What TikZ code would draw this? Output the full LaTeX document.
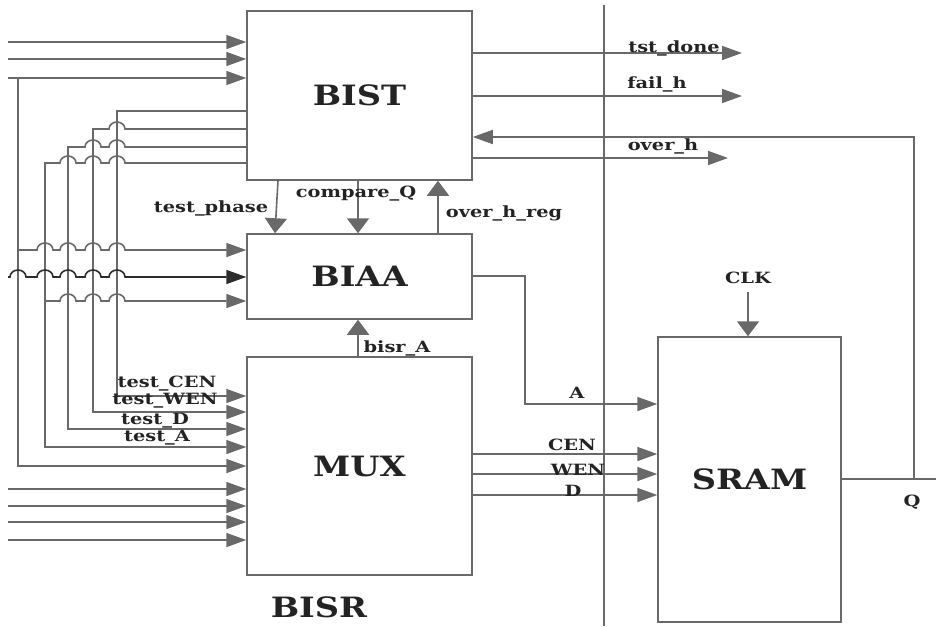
\documentclass[tikz,border=0pt]{standalone}
\usepackage{fontspec}
\setmainfont{DejaVu Serif}
\newfontfamily\lblfont{DejaVu Serif}[FakeStretch=1.25]
\newfontfamily\boxfont{DejaVu Serif}[FakeStretch=1.2]
\usetikzlibrary{arrows.meta}
\definecolor{wirec}{RGB}{105,105,105}
\definecolor{darkwire}{RGB}{45,45,45}
\definecolor{ink}{RGB}{35,35,35}
\tikzset{
  wire/.style={draw=wirec, line width=1.6pt},
  arh/.style={wire, -{Triangle[length=20pt,width=14pt]}},
  arv/.style={wire, -{Triangle[length=15pt,width=22pt]}},
  box/.style={draw=wirec, line width=1.5pt, inner sep=0pt, text=ink,
    font=\boxfont\bfseries\fontsize{28}{28}\selectfont},
  lbl/.style={inner sep=0pt, text=ink, font=\lblfont\bfseries\fontsize{15.5}{15.5}\selectfont},
}
\newcommand{\humpR}{arc[start angle=180,end angle=0,x radius=8,y radius=7]}
\newcommand{\humpL}{arc[start angle=0,end angle=180,x radius=8,y radius=7]}
\begin{document}
\begin{tikzpicture}[x=1pt,y=1pt]
\useasboundingbox (0,0) rectangle (936,-626);
% boxes
\node[box, minimum width=225pt, minimum height=169pt] (BIST) at (359.5,-95.5) {BIST};
\node[box, minimum width=225pt, minimum height=85pt] (BIAA) at (359.5,-276.5) {BIAA};
\node[box, minimum width=225pt, minimum height=218pt] (MUX) at (359.5,-466) {MUX};
\node[box, minimum width=183pt, minimum height=285pt] (SRAM) at (749.5,-479.5) {SRAM};
\node[box, draw=none] (BISR) at (319,-607) {BISR};
% divider
\coordinate (divtop) at (604,-5);
\coordinate (divbot) at (604,-626);
\draw[wire] (divtop) -- (divbot);
% BIST inputs
\coordinate (in1) at (8,-42);
\coordinate (in2) at (8,-59);
\coordinate (in3) at (8,-78);
\draw[arh] (in1) -- (BIST.west |- in1);
\draw[arh] (in2) -- (BIST.west |- in2);
\draw[arh] (in3) -- (BIST.west |- in3);
\coordinate (j1) at (18,-78);
\draw[arh] (j1) -- (18,-466) -- (MUX.west |- 0,-466);
% MUX inputs
\coordinate (m1) at (8,-489);
\coordinate (m2) at (8,-506);
\coordinate (m3) at (8,-522);
\coordinate (m4) at (8,-540);
\draw[arh] (m1) -- (MUX.west |- m1);
\draw[arh] (m2) -- (MUX.west |- m2);
\draw[arh] (m3) -- (MUX.west |- m3);
\draw[arh] (m4) -- (MUX.west |- m4);
% BIST left outputs to MUX
\draw[arh] (BIST.west |- 0,-111) -- (117,-111) -- (117,-396) -- (MUX.west |- 0,-396);
\draw[arh] (BIST.west |- 0,-129) -- (125,-129) \humpL -- (93,-129) -- (93,-412) -- (MUX.west |- 0,-412);
\draw[arh] (BIST.west |- 0,-147) -- (125,-147) \humpL -- (101,-147) \humpL -- (68,-147) -- (68,-429) -- (MUX.west |- 0,-429);
\draw[arh] (BIST.west |- 0,-163) -- (125,-163) \humpL -- (101,-163) \humpL -- (76,-163) \humpL -- (45,-163) -- (45,-447) -- (MUX.west |- 0,-447);
% BIAA inputs
\coordinate (b2) at (8,-277);
\draw[arh] (18,-250) -- (37,-250) \humpR -- (60,-250) \humpR -- (85,-250) \humpR -- (109,-250) \humpR -- (BIAA.west |- 0,-250);
\draw[arh, draw=darkwire] (b2) -- (10,-277) \humpR -- (37,-277) \humpR -- (60,-277) \humpR -- (85,-277) \humpR -- (109,-277) \humpR -- (BIAA.west |- b2);
\draw[arh] (45,-301) -- (60,-301) \humpR -- (85,-301) \humpR -- (109,-301) \humpR -- (BIAA.west |- 0,-301);
% labels on left
\node[lbl] (lCEN) at (167,-384) {test\_CEN};
\node[lbl] (lWEN) at (165,-401) {test\_WEN};
\node[lbl] (lD) at (155,-421) {test\_D};
\node[lbl] (lA) at (157,-438) {test\_A};
% BIST-BIAA
\draw[arv] (278,0 |- BIST.south) -- (275,0 |- BIAA.north);
\draw[arv] (358,0 |- BIST.south) -- (358,0 |- BIAA.north);
\draw[arv] (438,0 |- BIAA.north) -- (438,0 |- BIST.south);
\draw[arv] (358,0 |- MUX.north) -- (358,0 |- BIAA.south);
\node[lbl] (ltp) at (211,-208) {test\_phase};
\node[lbl] (lcq) at (356,-194) {compare\_Q};
\node[lbl] (lohr) at (504,-213) {over\_h\_reg};
\node[lbl] (lbA) at (397,-348) {bisr\_A};
% BIST right outputs
\coordinate (o1) at (742,-53);
\coordinate (o2) at (742,-96);
\coordinate (o3) at (728,-158);
\draw[arh] (BIST.east |- o1) -- (o1);
\draw[arh] (BIST.east |- o2) -- (o2);
\draw[arh] (BIST.east |- o3) -- (o3);
\node[lbl] (ltd) at (674,-48) {tst\_done};
\node[lbl] (lfh) at (657,-84) {fail\_h};
\node[lbl] (loh) at (663,-146) {over\_h};
% BIAA -> SRAM
\draw[arh] (BIAA.east |- 0,-276) -- (525,-276) -- (525,-404) -- (SRAM.west |- 0,-404);
\node[lbl] (lAA) at (577,-393) {A};
% MUX -> SRAM
\draw[arh] (MUX.east |- 0,-454) -- (SRAM.west |- 0,-454);
\draw[arh] (MUX.east |- 0,-474) -- (SRAM.west |- 0,-474);
\draw[arh] (MUX.east |- 0,-495) -- (SRAM.west |- 0,-495);
\node[lbl] (lC) at (572,-445) {CEN};
\node[lbl] (lW) at (578,-470) {WEN};
\node[lbl] (lDD) at (573,-491) {D};
% CLK
\node[lbl] (CLK) at (748,-278) {CLK};
\draw[arv] ([yshift=-8pt]CLK.south) -- (CLK.south |- SRAM.north);
% Q feedback
\coordinate (qend) at (936,-479);
\draw[wire] (SRAM.east |- qend) -- (qend);
\coordinate (qj) at (914,-479);
\draw[arh] (qj) -- (914,-137) -- (BIST.east |- 0,-137);
\node[lbl] (lQ) at (912,-502) {Q};
\end{tikzpicture}
\end{document}
